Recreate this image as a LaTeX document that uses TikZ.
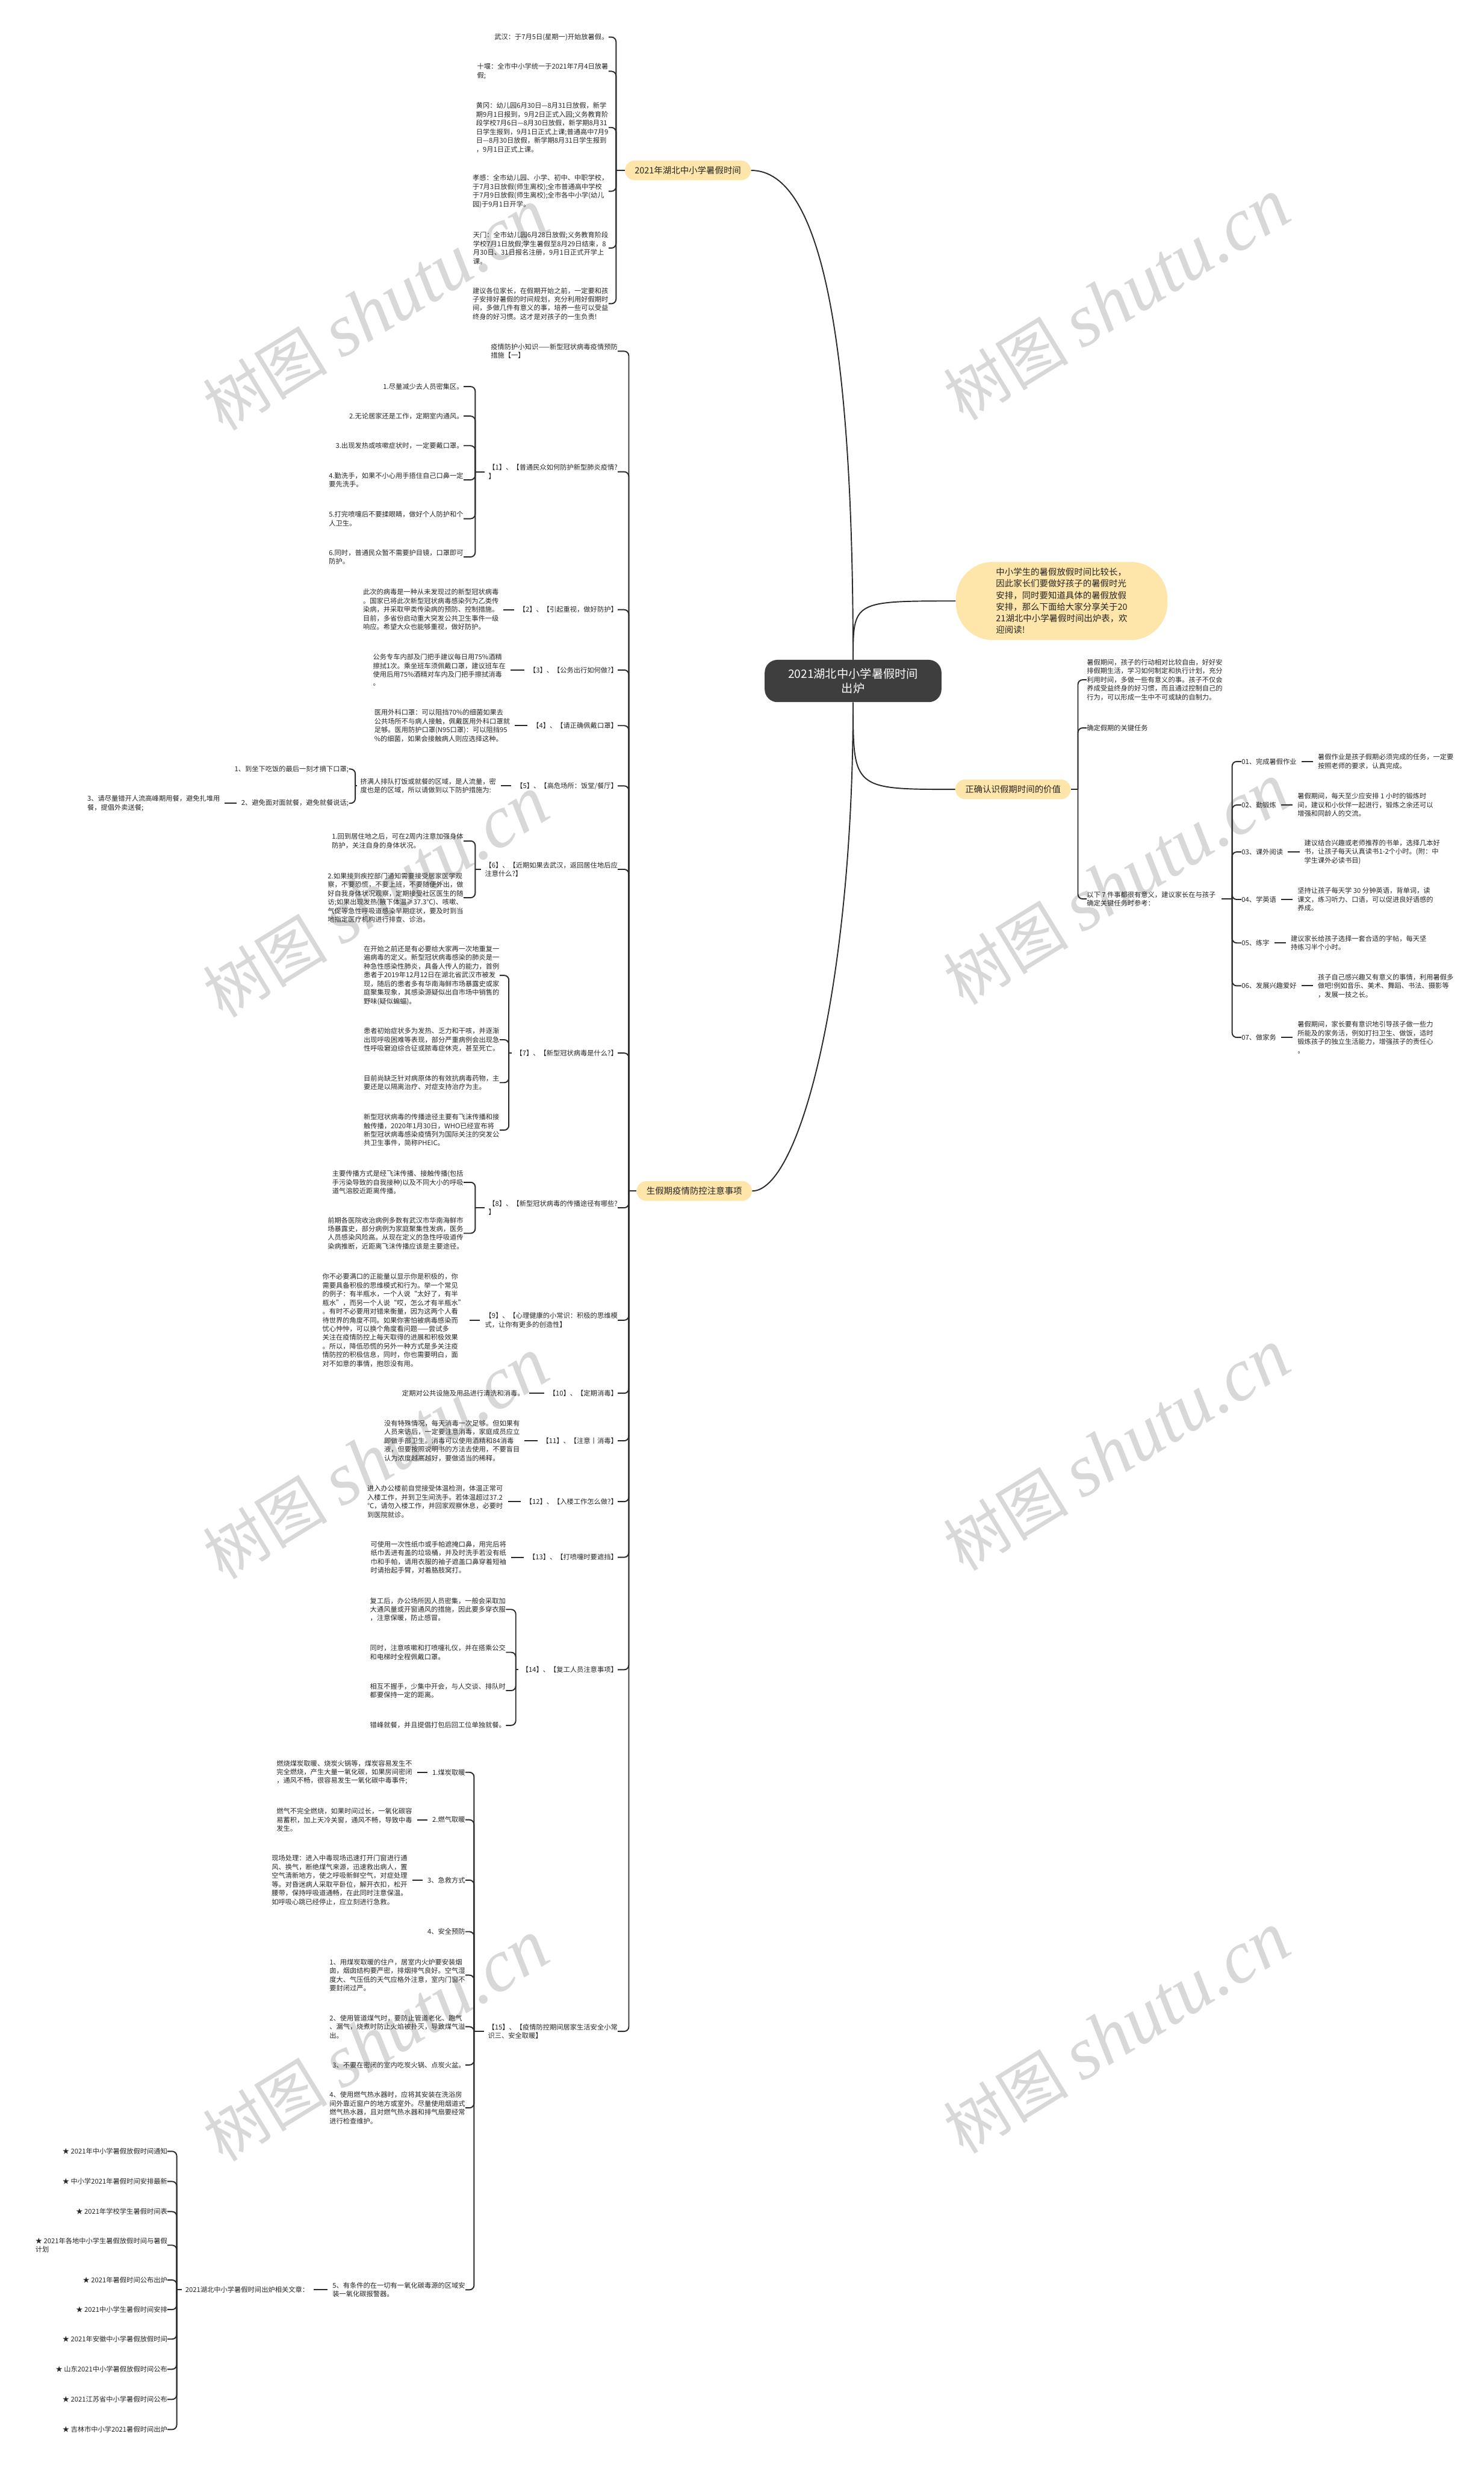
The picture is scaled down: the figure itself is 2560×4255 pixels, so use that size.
\documentclass[tikz,border=0pt]{standalone}
\usepackage{fontspec}
\setmainfont{Noto Sans CJK SC}
\newfontfamily\wmlat{Liberation Serif}
\usetikzlibrary{calc}
\definecolor{ink}{HTML}{262626}
\definecolor{lnc}{HTML}{2B2B2B}
\definecolor{yel}{HTML}{FEE5A9}
\definecolor{rootc}{HTML}{3E3E3E}
\definecolor{wmc}{HTML}{D8D8D8}
\newcommand\leaffont{\fontsize{5.85pt}{7.5pt}\selectfont}
\newcommand\brfont{\fontsize{7.5pt}{10pt}\selectfont}
\newcommand\rootfont{\fontsize{10pt}{12.5pt}\selectfont}
\newcommand\wmfont{\fontsize{54pt}{58pt}\selectfont}
\tikzset{
  leaf/.style={font=\leaffont, text=ink, inner sep=0pt, align=left},
  lw/.style={leaf, anchor=west},
  le/.style={leaf, anchor=east},
  rootbox/.style={fill=rootc, text=white, font=\rootfont, rounded corners=11pt, minimum width=152.5pt, minimum height=36.5pt, align=center, inner sep=0pt},
  introbox/.style={fill=yel, text=ink, font=\brfont, rounded corners=32pt, minimum width=182.5pt, minimum height=67.5pt, align=left, inner sep=0pt},
  branch/.style={fill=yel, text=ink, font=\brfont, rounded corners=8.5pt, minimum height=17pt, inner xsep=8.5pt, inner ysep=0pt},
  conn/.style={draw=lnc, line width=1pt},
  hook/.style={conn, rounded corners=4pt},
  shortline/.style={conn, shorten <=4pt, shorten >=4pt},
  wmk/.style={text=wmc, font=\wmfont, rotate=31.5, inner sep=0pt}
}
\begin{document}
\begin{tikzpicture}[x=0.5pt,y=-0.5pt]
\useasboundingbox (0,0) rectangle (2560,4255);
\fill[white] (0,0) rectangle (2560,4255);
% watermarks
\foreach \wx/\wy in {649/535,1927/518,649/1548,1927/1526,649/2517,1927/2503,649/3522,1927/3508}
  \node[wmk] at (\wx,\wy) {树图 {\wmlat\itshape\fontsize{64pt}{66pt}\selectfont shutu.cn}};

% ---------- root and main branches ----------
\node[rootbox] (R) at (1472,1175) {2021湖北中小学暑假时间\\出炉};
\node[introbox] (I) at (1832,1037) {中小学生的暑假放假时间比较长，\\因此家长们要做好孩子的暑假时光\\安排，同时要知道具体的暑假放假\\安排，那么下面给大家分享关于20\\21湖北中小学暑假时间出炉表，欢\\迎阅读!};
\node[branch] (T) at (1187,294) {2021年湖北中小学暑假时间};
\node[branch] (V) at (1748,1362) {正确认识假期时间的价值};
\node[branch] (L) at (1198,2055) {生假期疫情防控注意事项};

\draw[conn] (R.north) .. controls (1472,600) and (1420,294) .. (T.east);
\draw[conn] (R.south) .. controls (1472,1700) and (1380,2055) .. (L.east);
\draw[conn] (R.north) .. controls (1472,1037) .. (I.west);
\draw[conn] (R.south) .. controls (1472,1362) .. (V.west);

% ---------- top branch ----------
\node[le] (t1) at (1050,64) {武汉：于7月5日(星期一)开始放暑假。};
\node[le] (t2) at (1050,123) {十堰：全市中小学统一于2021年7月4日放暑\\假;};
\node[le] (t3) at (1050,220) {黄冈：幼儿园6月30日—8月31日放假，新学\\期9月1日报到，9月2日正式入园;义务教育阶\\段学校7月6日—8月30日放假，新学期8月31\\日学生报到，9月1日正式上课;普通高中7月9\\日—8月30日放假，新学期8月31日学生报到\\，9月1日正式上课。};
\node[le] (t4) at (1050,330) {孝感：全市幼儿园、小学、初中、中职学校，\\于7月3日放假(师生离校);全市普通高中学校\\于7月9日放假(师生离校);全市各中小学(幼儿\\园)于9月1日开学。};
\node[le] (t5) at (1050,428) {天门：全市幼儿园6月28日放假;义务教育阶段\\学校7月1日放假;学生暑假至8月29日结束，8\\月30日、31日报名注册，9月1日正式开学上\\课。};
\node[le] (t6) at (1050,524) {建议各位家长，在假期开始之前，一定要和孩\\子安排好暑假的时间规划，充分利用好假期时\\间，多做几件有意义的事，培养一些可以受益\\终身的好习惯。这才是对孩子的一生负责!};
\coordinate (jT) at (1063,294);
\draw[conn] (T.west) -- (jT);
\foreach \c in {t1,t2,t3,t4,t5,t6} \draw[hook] (jT) |- (\c.east);

% ---------- right branch ----------
\node[lw] (vA) at (1875,1173) {暑假期间，孩子的行动相对比较自由，好好安\\排假期生活，学习如何制定和执行计划，充分\\利用时间，多做一些有意义的事。孩子不仅会\\养成受益终身的好习惯，而且通过控制自己的\\行为，可以形成一生中不可或缺的自制力。};
\node[lw] (vB) at (1875,1256) {确定假期的关键任务};
\node[lw] (vC) at (1875,1551) {以下 7 件事都很有意义，建议家长在与孩子\\确定关键任务时参考：};
\coordinate (jV) at (1860,1362);
\draw[conn] (V.east) -- (jV);
\foreach \c in {vA,vB,vC} \draw[hook] (jV) |- (\c.west);

\coordinate (jC) at (2126,1551);
\draw[conn, shorten <=5pt] (vC.east) -- (jC);
\node[lw] (s1) at (2142,1314) {01、完成暑假作业};
\node[lw] (s2) at (2142,1389) {02、勤锻炼};
\node[lw] (s3) at (2142,1470) {03、课外阅读};
\node[lw] (s4) at (2142,1552) {04、学英语};
\node[lw] (s5) at (2142,1627) {05、练字};
\node[lw] (s6) at (2142,1701) {06、发展兴趣爱好};
\node[lw] (s7) at (2142,1790) {07、做家务};
\foreach \c in {s1,s2,s3,s4,s5,s6,s7} \draw[hook] (jC) |- (\c.west);
\node[lw] (d1) at ([xshift=18pt]s1.east) {暑假作业是孩子假期必须完成的任务，一定要\\按照老师的要求，认真完成。};
\node[lw] (d2) at ([xshift=18pt]s2.east) {暑假期间，每天至少应安排 1 小时的锻炼时\\间，建议和小伙伴一起进行，锻炼之余还可以\\增强和同龄人的交流。};
\node[lw] (d3) at ([xshift=18pt]s3.east) {建议结合兴趣或老师推荐的书单，选择几本好\\书，让孩子每天认真读书1-2个小时。(附：中\\学生课外必读书目)};
\node[lw] (d4) at ([xshift=18pt]s4.east) {坚持让孩子每天学 30 分钟英语，背单词，读\\课文，练习听力、口语，可以促进良好语感的\\养成。};
\node[lw] (d5) at ([xshift=18pt]s5.east) {建议家长给孩子选择一套合适的字帖，每天坚\\持练习半个小时。};
\node[lw] (d6) at ([xshift=18pt]s6.east) {孩子自己感兴趣又有意义的事情，利用暑假多\\做吧!例如音乐、美术、舞蹈、书法、摄影等\\，发展一技之长。};
\node[lw] (d7) at ([xshift=18pt]s7.east) {暑假期间，家长要有意识地引导孩子做一些力\\所能及的家务活，例如打扫卫生、做饭，适时\\锻炼孩子的独立生活能力，增强孩子的责任心\\。};
\foreach \a/\b in {s1/d1,s2/d2,s3/d3,s4/d4,s5/d5,s6/d6,s7/d7} \draw[shortline] (\a.east) -- (\b.west);

% ---------- left big branch ----------
\coordinate (jL) at (1085,2055);
\draw[conn] (L.west) -- (jL);
\node[le] (k0) at (1066,606) {疫情防护小知识——新型冠状病毒疫情预防\\措施【一】};
\node[le] (k1) at (1066,814) {【1】、【普通民众如何防护新型肺炎疫情?\\】};
\node[le] (k2) at (1066,1052) {【2】、【引起重视，做好防护】};
\node[le] (k3) at (1066,1156) {【3】、【公务出行如何做?】};
\node[le] (k4) at (1066,1252) {【4】、【请正确佩戴口罩】};
\node[le] (k5) at (1066,1356) {【5】、【高危场所：饭堂/餐厅】};
\node[le] (k6) at (1066,1500) {【6】、【近期如果去武汉，返回居住地后应\\注意什么?】};
\node[le] (k7) at (1066,1817) {【7】、【新型冠状病毒是什么?】};
\node[le] (k8) at (1066,2084) {【8】、【新型冠状病毒的传播途径有哪些?\\】};
\node[le] (k9) at (1066,2278) {【9】、【心理健康的小常识：积极的思维模\\式，让你有更多的创造性】};
\node[le] (k10) at (1066,2404) {【10】、【定期消毒】};
\node[le] (k11) at (1066,2486) {【11】、【注意丨消毒】};
\node[le] (k12) at (1066,2591) {【12】、【入楼工作怎么做?】};
\node[le] (k13) at (1066,2687) {【13】、【打喷嚏时要遮挡】};
\node[le] (k14) at (1066,2881) {【14】、【复工人员注意事项】};
\node[le] (k15) at (1066,3505) {【15】、【疫情防控期间居家生活安全小常\\识三、安全取暖】};
\foreach \c in {k0,k1,k2,k3,k4,k5,k6,k7,k8,k9,k10,k11,k12,k13,k14,k15} \draw[hook] (jL) |- (\c.east);

% [1]
\coordinate (j1) at (820,814);
\draw[conn, shorten <=3pt] (k1.west) -- (j1);
\node[le] (k1a) at (800,667) {1.尽量减少去人员密集区。};
\node[le] (k1b) at (800,718) {2.无论居家还是工作，定期室内通风。};
\node[le] (k1c) at (800,769) {3.出现发热或咳嗽症状时，一定要戴口罩。};
\node[le] (k1d) at (800,828) {4.勤洗手，如果不小心用手捂住自己口鼻一定\\要先洗手。};
\node[le] (k1e) at (800,895) {5.打完喷嚏后不要揉眼睛，做好个人防护和个\\人卫生。};
\node[le] (k1f) at (800,961) {6.同时，普通民众暂不需要护目镜，口罩即可\\防护。};
\foreach \c in {k1a,k1b,k1c,k1d,k1e,k1f} \draw[hook] (j1) |- (\c.east);

% [2]-[4]
\node[le] (k2a) at ([xshift=-17pt]k2.west) {此次的病毒是一种从未发现过的新型冠状病毒\\。国家已将此次新型冠状病毒感染列为乙类传\\染病，并采取甲类传染病的预防、控制措施。\\目前，多省份启动重大突发公共卫生事件一级\\响应。希望大众也能够重视，做好防护。};
\node[le] (k3a) at ([xshift=-20pt]k3.west) {公务专车内部及门把手建议每日用75\%酒精\\擦拭1次。乘坐班车须佩戴口罩，建议班车在\\使用后用75\%酒精对车内及门把手擦拭消毒\\。};
\node[le] (k4a) at ([xshift=-19pt]k4.west) {医用外科口罩：可以阻挡70\%的细菌如果去\\公共场所不与病人接触，佩戴医用外科口罩就\\足够。医用防护口罩(N95口罩)：可以阻挡95\\\%的细菌，如果会接触病人则应选择这种。};
\draw[shortline] (k2.west) -- (k2a.east);
\draw[shortline] (k3.west) -- (k3a.east);
\draw[shortline] (k4.west) -- (k4a.east);

% [5]
\node[le] (k5a) at ([xshift=-17pt]k5.west) {挤满人排队打饭或就餐的区域，是人流量，密\\度也是的区域，所以请做到以下防护措施为:};
\draw[shortline] (k5.west) -- (k5a.east);
\coordinate (j5) at (613,1356);
\draw[conn, shorten <=3pt] (k5a.west) -- (j5);
\node[le] (k5b) at (602,1327) {1、到坐下吃饭的最后一刻才摘下口罩;};
\node[le] (k5c) at (602,1386) {2、避免面对面就餐，避免就餐说话;};
\foreach \c in {k5b,k5c} \draw[hook] (j5) |- (\c.east);
\node[le] (k5d) at ([xshift=-18pt]k5c.west) {3、请尽量错开人流高峰期用餐，避免扎堆用\\餐，提倡外卖送餐;};
\draw[shortline] (k5c.west) -- (k5d.east);

% [6]
\coordinate (j6) at (820,1500);
\draw[conn, shorten <=3pt] (k6.west) -- (j6);
\node[le] (k6a) at (800,1451) {1.回到居住地之后，可在2周内注意加强身体\\防护，关注自身的身体状况。};
\node[le] (k6b) at (800,1549) {2.如果接到疾控部门通知需要接受居家医学观\\察，不要恐慌，不要上班，不要随便外出，做\\好自我身体状况观察，定期接受社区医生的随\\访;如果出现发热(腋下体温≥37.3℃)、咳嗽、\\气促等急性呼吸道感染早期症状，要及时到当\\地指定医疗机构进行排查、诊治。};
\foreach \c in {k6a,k6b} \draw[hook] (j6) |- (\c.east);

% [7]
\coordinate (j7) at (878,1817);
\draw[conn, shorten <=3pt] (k7.west) -- (j7);
\node[le] (k7a) at (862,1683) {在开始之前还是有必要给大家再一次地重复一\\遍病毒的定义。新型冠状病毒感染的肺炎是一\\种急性感染性肺炎，具备人传人的能力，首例\\患者于2019年12月12日在湖北省武汉市被发\\现，随后的患者多有华南海鲜市场暴露史或家\\庭聚集现象，其感染源疑似出自市场中销售的\\野味(疑似蝙蝠)。};
\node[le] (k7b) at (862,1794) {患者初始症状多为发热、乏力和干咳，并逐渐\\出现呼吸困难等表现，部分严重病例会出现急\\性呼吸窘迫综合征或脓毒症休克，甚至死亡。};
\node[le] (k7c) at (862,1868) {目前尚缺乏针对病原体的有效抗病毒药物，主\\要还是以隔离治疗、对症支持治疗为主。};
\node[le] (k7d) at (862,1950) {新型冠状病毒的传播途径主要有飞沫传播和接\\触传播，2020年1月30日，WHO已经宣布将\\新型冠状病毒感染疫情列为国际关注的突发公\\共卫生事件，简称PHEIC。};
\foreach \c in {k7a,k7b,k7c,k7d} \draw[hook] (j7) |- (\c.east);

% [8]
\coordinate (j8) at (820,2084);
\draw[conn, shorten <=3pt] (k8.west) -- (j8);
\node[le] (k8a) at (800,2040) {主要传播方式是经飞沫传播、接触传播(包括\\手污染导致的自我接种)以及不同大小的呼吸\\道气溶胶近距离传播。};
\node[le] (k8b) at (800,2128) {前期各医院收治病例多数有武汉市华南海鲜市\\场暴露史，部分病例为家庭聚集性发病，医务\\人员感染风险高。从现在定义的急性呼吸道传\\染病推断，近距离飞沫传播应该是主要途径。};
\foreach \c in {k8a,k8b} \draw[hook] (j8) |- (\c.east);

% [9]-[13]
\node[le] (k9a) at ([xshift=-17pt]k9.west) {你不必要满口的正能量以显示你是积极的，你\\需要具备积极的思维模式和行为。举一个常见\\的例子：有半瓶水，一个人说“太好了，有半\\瓶水”，而另一个人说“哎，怎么才有半瓶水”\\。有时不必要用对错来衡量，因为这两个人看\\待世界的角度不同。如果你害怕被病毒感染而\\忧心忡忡，可以换个角度看问题——尝试多\\关注在疫情防控上每天取得的进展和积极效果\\。所以，降低恐慌的另外一种方式是多关注疫\\情防控的积极信息，同时，你也需要明白，面\\对不如意的事情，抱怨没有用。};
\node[le] (k10a) at ([xshift=-21pt]k10.west) {定期对公共设施及用品进行清洗和消毒。};
\node[le] (k11a) at ([xshift=-19pt]k11.west) {没有特殊情况，每天消毒一次足够。但如果有\\人员来访后，一定要注意消毒，家庭成员应立\\即做手部卫生。消毒可以使用酒精和84消毒\\液，但要按照说明书的方法去使用，不要盲目\\认为浓度越高越好，要做适当的稀释。};
\node[le] (k12a) at ([xshift=-19pt]k12.west) {进入办公楼前自觉接受体温检测，体温正常可\\入楼工作，并到卫生间洗手。若体温超过37.2\\℃，请勿入楼工作，并回家观察休息，必要时\\到医院就诊。};
\node[le] (k13a) at ([xshift=-19pt]k13.west) {可使用一次性纸巾或手帕遮掩口鼻，用完后将\\纸巾丢进有盖的垃圾桶，并及时洗手若没有纸\\巾和手帕，请用衣服的袖子遮盖口鼻穿着短袖\\时请抬起手臂，对着胳肢窝打。};
\foreach \a/\b in {k9/k9a,k10/k10a,k11/k11a,k12/k12a,k13/k13a} \draw[shortline] (\a.west) -- (\b.east);

% [14]
\coordinate (j14) at (890,2881);
\draw[conn, shorten <=3pt] (k14.west) -- (j14);
\node[le] (k14a) at (873,2777) {复工后，办公场所因人员密集，一般会采取加\\大通风量或开窗通风的措施，因此要多穿衣服\\，注意保暖，防止感冒。};
\node[le] (k14b) at (873,2851) {同时，注意咳嗽和打喷嚏礼仪，并在搭乘公交\\和电梯时全程佩戴口罩。};
\node[le] (k14c) at (873,2917) {相互不握手，少集中开会，与人交谈、排队时\\都要保持一定的距离。};
\node[le] (k14d) at (873,2977) {错峰就餐，并且提倡打包后回工位单独就餐。};
\foreach \c in {k14a,k14b,k14c,k14d} \draw[hook] (j14) |- (\c.east);

% [15]
\coordinate (j15) at (818,3505);
\draw[conn, shorten <=3pt] (k15.west) -- (j15);
\node[le] (m1) at (803,3058) {1.煤炭取暖};
\node[le] (m2) at (803,3140) {2.燃气取暖};
\node[le] (m3) at (803,3244) {3、急救方式};
\node[le] (m4) at (803,3333) {4、安全预防};
\node[le] (m5) at (803,3408) {1、用煤炭取暖的住户，居室内火炉要安装烟\\囱，烟囱结构要严密，排烟排气良好。空气湿\\度大、气压低的天气应格外注意，室内门窗不\\要封闭过严。};
\node[le] (m6) at (803,3497) {2、使用管道煤气时，要防止管道老化、跑气\\、漏气，烧煮时防止火焰被扑灭，导致煤气溢\\出。};
\node[le] (m7) at (803,3563) {3、不要在密闭的室内吃炭火锅、点炭火盆。};
\node[le] (m8) at (803,3637) {4、使用燃气热水器时，应将其安装在洗浴房\\间外靠近窗户的地方或室外。尽量使用烟道式\\燃气热水器，且对燃气热水器和排气扇要经常\\进行检查维护。};
\node[le] (m9) at (803,3951) {5、有条件的在一切有一氧化碳毒源的区域安\\装一氧化碳报警器。};
\foreach \c in {m1,m2,m3,m4,m5,m6,m7,m8,m9} \draw[hook] (j15) |- (\c.east);
\node[le] (m1a) at ([xshift=-17pt]m1.west) {燃烧煤炭取暖、烧炭火锅等，煤炭容易发生不\\完全燃烧，产生大量一氧化碳，如果房间密闭\\，通风不畅，很容易发生一氧化碳中毒事件;};
\node[le] (m2a) at ([xshift=-17pt]m2.west) {燃气不完全燃烧，如果时间过长，一氧化碳容\\易蓄积，加上天冷关窗，通风不畅，导致中毒\\发生。};
\node[le] (m3a) at ([xshift=-17pt]m3.west) {现场处理：进入中毒现场迅速打开门窗进行通\\风、换气，断绝煤气来源，迅速救出病人，置\\空气清新地方，使之呼吸新鲜空气，对症处理\\等。对昏迷病人采取平卧位，解开衣扣，松开\\腰带，保持呼吸道通畅，在此同时注意保温。\\如呼吸心跳已经停止，应立刻进行急救。};
\node[le] (m9a) at ([xshift=-20pt]m9.west) {2021湖北中小学暑假时间出炉相关文章：};
\foreach \a/\b in {m1/m1a,m2/m2a,m3/m3a,m9/m9a} \draw[shortline] (\a.west) -- (\b.east);

% related articles
\coordinate (jS) at (305,3951);
\draw[conn, shorten <=3pt] (m9a.west) -- (jS);
\node[le] (r1) at (289,3712) {★ 2021年中小学暑假放假时间通知};
\node[le] (r2) at (289,3764) {★ 中小学2021年暑假时间安排最新};
\node[le] (r3) at (289,3816) {★ 2021年学校学生暑假时间表};
\node[le] (r4) at (289,3874) {★ 2021年各地中小学生暑假放假时间与暑假\\计划};
\node[le] (r5) at (289,3934) {★ 2021年暑假时间公布出炉};
\node[le] (r6) at (289,3985) {★ 2021中小学生暑假时间安排};
\node[le] (r7) at (289,4036) {★ 2021年安徽中小学暑假放假时间};
\node[le] (r8) at (289,4088) {★ 山东2021中小学暑假放假时间公布};
\node[le] (r9) at (289,4140) {★ 2021江苏省中小学暑假时间公布};
\node[le] (r10) at (289,4192) {★ 吉林市中小学2021暑假时间出炉};
\foreach \c in {r1,r2,r3,r4,r5,r6,r7,r8,r9,r10} \draw[hook] (jS) |- (\c.east);
\end{tikzpicture}
\end{document}
